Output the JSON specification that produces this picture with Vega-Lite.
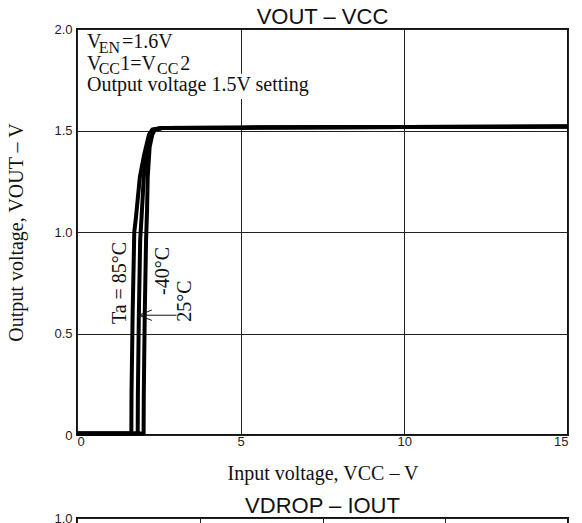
{
  "$schema": "https://vega.github.io/schema/vega-lite/v6.json",
  "padding": {"top": 5, "left": 5, "right": 5, "bottom": 0},
  "background": "white",
  "config": {
    "view": {"stroke": "#111", "strokeWidth": 2},
    "concat": {"spacing": 10},
    "axis": {
      "grid": true, "gridColor": "#222", "gridWidth": 1, "gridOpacity": 1,
      "ticks": false, "domain": false,
      "labelFont": "Liberation Sans", "labelFontSize": 13, "labelColor": "#222",
      "titleFont": "Liberation Serif", "titleFontSize": 20, "titleFontWeight": "normal", "titleColor": "#111"
    },
    "title": {"font": "Liberation Sans", "fontSize": 22, "fontWeight": "normal", "color": "#111", "offset": -6}
  },
  "datasets": {
    "curves": [
      {"t": "85", "vcc": 0, "vout": 0.008}, {"t": "85", "vcc": 1.66, "vout": 0.008}, {"t": "85", "vcc": 1.665, "vout": 0.2},
      {"t": "85", "vcc": 1.70, "vout": 0.6}, {"t": "85", "vcc": 1.75, "vout": 1.0}, {"t": "85", "vcc": 1.80, "vout": 1.07},
      {"t": "85", "vcc": 1.92, "vout": 1.27}, {"t": "85", "vcc": 2.05, "vout": 1.38}, {"t": "85", "vcc": 2.20, "vout": 1.48},
      {"t": "85", "vcc": 2.30, "vout": 1.505}, {"t": "85", "vcc": 2.6, "vout": 1.512}, {"t": "85", "vcc": 5, "vout": 1.514},
      {"t": "85", "vcc": 10, "vout": 1.517}, {"t": "85", "vcc": 15, "vout": 1.52},
      {"t": "25", "vcc": 0, "vout": 0.008}, {"t": "25", "vcc": 1.855, "vout": 0.008}, {"t": "25", "vcc": 1.86, "vout": 0.2},
      {"t": "25", "vcc": 1.89, "vout": 0.6}, {"t": "25", "vcc": 1.93, "vout": 0.96}, {"t": "25", "vcc": 1.985, "vout": 1.108},
      {"t": "25", "vcc": 2.04, "vout": 1.27}, {"t": "25", "vcc": 2.14, "vout": 1.40}, {"t": "25", "vcc": 2.27, "vout": 1.49},
      {"t": "25", "vcc": 2.36, "vout": 1.505}, {"t": "25", "vcc": 2.6, "vout": 1.512}, {"t": "25", "vcc": 5, "vout": 1.514},
      {"t": "25", "vcc": 10, "vout": 1.517}, {"t": "25", "vcc": 15, "vout": 1.52},
      {"t": "-40", "vcc": 0, "vout": 0.008}, {"t": "-40", "vcc": 2.035, "vout": 0.008}, {"t": "-40", "vcc": 2.04, "vout": 0.2},
      {"t": "-40", "vcc": 2.07, "vout": 0.6}, {"t": "-40", "vcc": 2.11, "vout": 0.96}, {"t": "-40", "vcc": 2.14, "vout": 1.108},
      {"t": "-40", "vcc": 2.16, "vout": 1.27}, {"t": "-40", "vcc": 2.22, "vout": 1.42}, {"t": "-40", "vcc": 2.30, "vout": 1.48},
      {"t": "-40", "vcc": 2.38, "vout": 1.505}, {"t": "-40", "vcc": 2.6, "vout": 1.512}, {"t": "-40", "vcc": 5, "vout": 1.514},
      {"t": "-40", "vcc": 10, "vout": 1.517}, {"t": "-40", "vcc": 15, "vout": 1.52}
    ],
    "mainText": [
      {"x": 0.306, "y": 1.905, "s": "V"}, {"x": 1.375, "y": 1.905, "s": "=1.6V"},
      {"x": 0.306, "y": 1.798, "s": "V"}, {"x": 1.323, "y": 1.798, "s": "1=V"}, {"x": 3.156, "y": 1.798, "s": "2"},
      {"x": 0.306, "y": 1.695, "s": "Output voltage 1.5V setting"}
    ],
    "subText": [
      {"x": 0.663, "y": 1.88, "s": "EN"}, {"x": 0.663, "y": 1.778, "s": "CC"}, {"x": 2.444, "y": 1.778, "s": "CC"}
    ],
    "tempLabels": [
      {"x": 1.314, "y": 0.749, "s": "Ta = 85°C"},
      {"x": 2.628, "y": 0.808, "s": "-40°C"},
      {"x": 3.30, "y": 0.660, "s": "25°C"}
    ],
    "arrow": [{"x1": 1.884, "x2": 3.04, "y": 0.59, "hx": 2.087}],
    "mask": [{"x1": 0.25, "x2": 7.5, "y1": 1.655, "y2": 1.78}]
  },
  "vconcat": [
    {
      "title": {"text": "VOUT – VCC"},
      "width": 491,
      "height": 406,
      "layer": [
        {
          "data": {"name": "mask"},
          "mark": {"type": "rect", "fill": "white", "stroke": null},
          "encoding": {
            "x": {"field": "x1", "type": "quantitative", "scale": {"domain": [0, 15], "nice": false},
                  "axis": {"values": [0, 5, 10, 15], "title": "Input voltage, VCC – V", "labelPadding": 0, "titlePadding": 15}},
            "x2": {"field": "x2"},
            "y": {"field": "y1", "type": "quantitative", "scale": {"domain": [0, 2], "nice": false},
                  "axis": {"values": [0, 0.5, 1, 1.5, 2], "labelExpr": "datum.value == 0 ? '0' : format(datum.value, '.1f')",
                           "title": "Output voltage, VOUT – V", "labelPadding": 5, "titlePadding": 27}},
            "y2": {"field": "y2"}
          }
        },
        {
          "data": {"name": "curves"},
          "mark": {"type": "line", "color": "#000", "strokeWidth": 4, "strokeJoin": "round"},
          "encoding": {
            "x": {"field": "vcc", "type": "quantitative"},
            "y": {"field": "vout", "type": "quantitative"},
            "detail": {"field": "t"}
          }
        },
        {
          "data": {"name": "mainText"},
          "mark": {"type": "text", "font": "Liberation Serif", "fontSize": 20, "align": "left", "baseline": "alphabetic", "color": "#111"},
          "encoding": {
            "x": {"field": "x", "type": "quantitative"},
            "y": {"field": "y", "type": "quantitative"},
            "text": {"field": "s"}
          }
        },
        {
          "data": {"name": "subText"},
          "mark": {"type": "text", "font": "Liberation Serif", "fontSize": 16, "align": "left", "baseline": "alphabetic", "color": "#111"},
          "encoding": {
            "x": {"field": "x", "type": "quantitative"},
            "y": {"field": "y", "type": "quantitative"},
            "text": {"field": "s"}
          }
        },
        {
          "data": {"name": "tempLabels"},
          "mark": {"type": "text", "font": "Liberation Serif", "fontSize": 20, "angle": 270, "align": "center", "baseline": "middle", "color": "#111"},
          "encoding": {
            "x": {"field": "x", "type": "quantitative"},
            "y": {"field": "y", "type": "quantitative"},
            "text": {"field": "s"}
          }
        },
        {
          "data": {"name": "arrow"},
          "mark": {"type": "rule", "color": "#111", "strokeWidth": 1},
          "encoding": {
            "x": {"field": "x1", "type": "quantitative"},
            "x2": {"field": "x2"},
            "y": {"field": "y", "type": "quantitative"}
          }
        },
        {
          "data": {"name": "arrow"},
          "mark": {"type": "point", "shape": "M1,-0.8L-1,0L1,0.8", "size": 169, "filled": false, "stroke": "#111", "strokeWidth": 1, "opacity": 1},
          "encoding": {
            "x": {"field": "hx", "type": "quantitative"},
            "y": {"field": "y", "type": "quantitative"}
          }
        }
      ]
    },
    {
      "title": {"text": "VDROP – IOUT"},
      "width": 491,
      "height": 300,
      "data": {"values": []},
      "mark": {"type": "line", "color": "#000", "strokeWidth": 3.5},
      "encoding": {
        "x": {"field": "iout", "type": "quantitative", "scale": {"domain": [0, 400], "nice": false},
              "axis": {"values": [0, 100, 200, 300, 400], "title": "Output current, IOUT – mA"}},
        "y": {"field": "vdrop", "type": "quantitative", "scale": {"domain": [0, 1], "nice": false},
              "axis": {"values": [0, 0.2, 0.4, 0.6, 0.8, 1.0], "labelExpr": "datum.value == 0 ? '0' : format(datum.value, '.1f')",
                       "title": "Dropout voltage, VDROP – V", "labelPadding": 5, "titlePadding": 27}}
      }
    }
  ]
}
